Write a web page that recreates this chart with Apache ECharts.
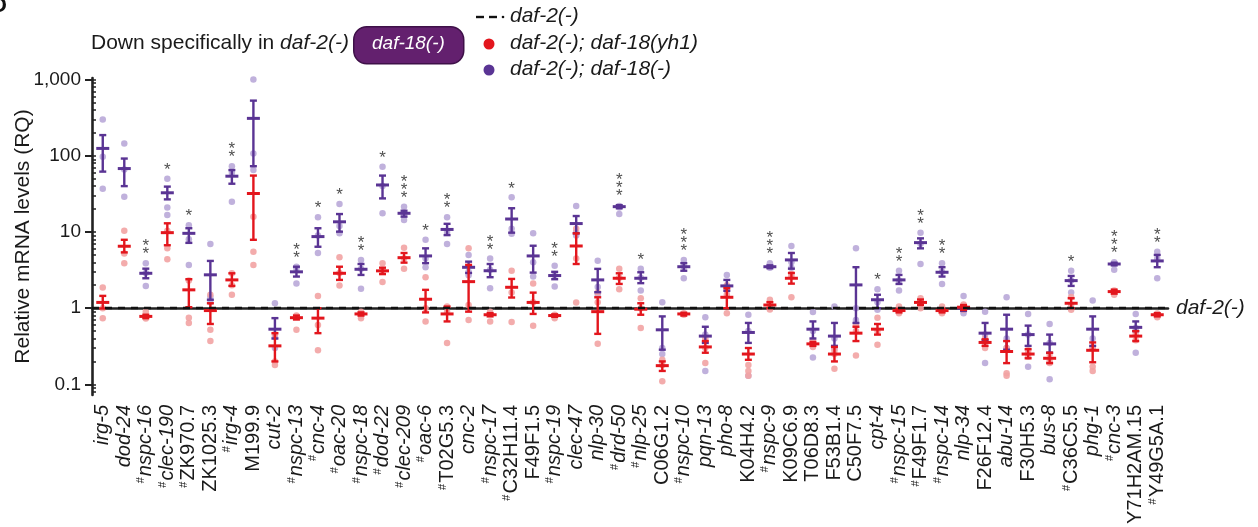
<!DOCTYPE html>
<html>
<head>
<meta charset="utf-8">
<script src="https://cdn.jsdelivr.net/npm/echarts@6/dist/echarts.min.js"></script>
<style>
html,body{margin:0;padding:0;background:#fff;}
#chart{width:1258px;height:527px;}
</style>
</head>
<body>
<div id="chart"></div>
<script>
// ---------------- DATA ----------------
const genes = ['irg-5','dod-24','#nspc-16','#clec-190','#ZK970.7','ZK1025.3','#irg-4','M199.9','cut-2','#nspc-13',
  '#cnc-4','#oac-20','#nspc-18','#dod-22','#clec-209','#oac-6','#T02G5.3','cnc-2','#nspc-17','#C32H11.4',
  'F49F1.5','#nspc-19','clec-47','nlp-30','#drd-50','#nlp-25','C06G1.2','#nspc-10','pqn-13','pho-8',
  'K04H4.2','#nspc-9','K09C6.9','T06D8.3','F53B1.4','C50F7.5','cpt-4','#nspc-15','#F49F1.7','#nspc-14',
  'nlp-34','F26F12.4','abu-14','F30H5.3','bus-8','#C36C5.5','phg-1','#cnc-3','Y71H2AM.15','#Y49G5A.1'];

// daf-2(-); daf-18(-)  (purple)
const purpleMean = [125,68,2.87,32.7,9.6,2.74,54,310,0.53,3.0,
  8.7,13.6,3.24,41.4,17.6,4.85,10.8,3.44,3.1,14.8,
  4.85,2.68,12.9,2.35,21.5,2.47,0.52,3.5,0.43,1.96,
  0.48,3.5,4.3,0.53,0.43,2.02,1.29,2.35,7.25,2.96,
  1.0,0.47,0.53,0.45,0.34,2.3,0.53,3.8,0.56,4.17];
const purpleLow = [62,40,2.47,26.8,7.2,1.29,43,73,0.4,2.6,
  6.4,10.1,2.73,27.6,15.9,3.9,9.1,2.9,2.55,9.8,
  2.93,2.4,9.6,1.62,20.5,2.13,0.285,3.1,0.35,1.69,
  0.35,3.35,3.3,0.4,0.32,0.64,1.0,2.08,6.1,2.6,
  0.92,0.38,0.285,0.32,0.26,1.96,0.32,3.65,0.5,3.45];
const purpleHigh = [187,92,3.3,39.4,11.2,4.17,65,530,0.74,3.5,
  11.2,17.2,3.8,55,19,6.1,12.8,4.08,3.8,20.5,
  6.6,3.0,16.2,3.28,22.5,2.96,0.78,3.9,0.57,2.35,
  0.64,3.65,5.3,0.67,0.64,3.45,1.5,2.73,8.25,3.45,
  1.06,0.64,0.82,0.59,0.45,2.65,0.78,3.95,0.67,5.0];
const purpleDots = [[300,97,37],[145,29,66],[3.9,1.96,2.9],[50,16.7,21],[12.3,3.7,8],[6.96,1.4,1.2],[73,25,60],[1000,107,65],[1.16,0.42,0.3],[3.5,2.1,3.3],
  [15.6,5.3,9],[23.3,9.6,12],[4.3,1.8,3.3],[72,17.6,40],[21.5,14.4,17],[7.9,3.45,4.5],[15.6,6.96,10],[5.0,2.7,3.0],[4.5,1.83,3.2],[28.5,9.5,11],
  [9.6,2.6,4],[3.6,1.92,2.7],[21.9,9,10],[4.2,1.5,1.9],[17.2,22,21],[3.3,1.7,2.5],[1.2,0.3,0.25],[4.3,2.47,3.5],[0.76,0.15,0.45],[2.73,1.7,1.9],
  [0.82,0.13,0.5],[3.9,3.4,3.5],[6.55,3.4,4],[0.89,0.225,0.5],[1.05,0.3,0.4],[6.1,0.7,1.0],[1.77,0.95,1.2],[3.1,1.7,2.3],[9.8,3.8,7],[3.9,2.08,3.0],
  [1.45,0.86,1.0],[0.9,0.19,0.45],[1.39,0.3,0.4],[0.84,0.17,0.45],[0.62,0.117,0.35],[3.1,1.6,2.3],[1.26,0.3,0.4],[3.2,4.0,3.8],[0.84,0.26,0.55],[5.5,2.47,4.5]];

// daf-2(-); daf-18(yh1)  (red)
const redMean = [1.19,6.5,0.78,9.8,1.74,0.93,2.35,32,0.32,0.75,
  0.74,2.87,0.84,3.09,4.6,1.31,0.84,2.23,0.82,1.88,
  1.19,0.8,6.55,0.9,2.47,0.97,0.176,0.84,0.31,1.39,
  0.25,1.1,2.47,0.34,0.25,0.47,0.53,0.93,1.19,0.93,
  1.03,0.355,0.27,0.25,0.22,1.16,0.28,1.65,0.43,0.82];
const redLow = [0.99,5.4,0.74,6.7,1.03,0.62,1.96,7.9,0.2,0.71,
  0.47,2.35,0.8,2.8,3.96,0.88,0.67,0.9,0.78,1.38,
  0.84,0.77,3.8,0.46,2.08,0.82,0.15,0.8,0.26,1.0,
  0.21,1.0,2.1,0.32,0.2,0.37,0.45,0.88,1.1,0.88,
  0.95,0.32,0.19,0.22,0.19,1.0,0.195,1.55,0.37,0.78];
const redHigh = [1.45,7.9,0.82,13,2.4,1.16,2.87,55,0.47,0.8,
  1.0,3.5,0.88,3.4,5.3,1.74,1.05,3.7,0.86,2.42,
  1.6,0.83,9.6,1.39,2.87,1.16,0.2,0.87,0.37,1.83,
  0.3,1.2,2.9,0.36,0.31,0.57,0.62,0.98,1.3,0.98,
  1.1,0.39,0.37,0.29,0.26,1.35,0.355,1.75,0.5,0.86];
const redDots = [[1.87,1.0,0.74],[10.4,3.9,5.2],[0.9,0.73,0.76],[10.4,6.1,4.4],[0.75,0.64,2.3],[0.52,0.37,1.5],[2.87,1.5,2.0],[15.9,5.5,3.7],[0.2,0.18,0.45],[0.52,0.8,0.78],
  [1.45,0.28,0.6],[4.66,1.98,2.9],[0.74,0.8,0.9],[3.9,2.2,3.1],[6.2,3.3,4.5],[2.55,0.67,1.0],[0.35,1.05,0.9],[6.1,1.1,0.7],[0.67,0.85,0.9],[3.1,0.66,1.6],
  [2.1,0.59,1.2],[0.74,0.8,0.82],[1.19,4.5,11],[0.34,1.6,1.2],[3.3,1.77,2.5],[1.35,0.55,1.0],[0.11,0.21,0.18],[0.82,0.86],[0.19,0.4,0.3],[0.86,1.5,2.0],
  [0.18,0.15,0.13],[1.29,0.96,1.1],[1.39,2.8,2.6],[0.31,0.38,0.33],[0.16,0.28,0.25],[0.24,0.5,0.6],[0.33,0.75,0.5],[1.05,0.86,0.9],[1.35,1.0,1.2],[1.05,0.86,0.9],
  [1.12,0.95,1.0],[0.3,0.4,0.35],[0.14,0.13,0.3],[0.26,0.23,0.28],[0.19,0.25,0.2],[0.95,1.4,1.1],[0.15,0.17,0.3],[1.5,1.7],[0.38,0.45],[0.76,0.85,0.8]];

// significance stars (number of *)
const stars = [0,0,2,1,1,0,2,0,0,2,
  1,1,2,1,3,1,2,0,2,1,
  0,2,0,0,3,1,0,3,0,0,
  0,3,0,0,0,0,1,2,2,2,
  0,0,0,0,0,1,0,3,0,2];

const yTickValues = [0.1, 1, 10, 100, 1000];
const yTickLabels = ['0.1', '1', '10', '100', '1,000'];
const yMinorValues = [0.08,0.09,0.2,0.3,0.4,0.5,0.6,0.7,0.8,0.9,2,3,4,5,6,7,8,9,20,30,40,50,60,70,80,90,200,300,400,500,600,700,800,900];
const yMin = 0.0725, yMax = 1050;

// ---------------- BUILD ----------------
const L = v => Math.log10(v);
const FONT = "'Liberation Sans', Arial, sans-serif";
const PURPLE = '#5a3494', RED = '#e3161d';
const PURPLE_DOT = '#b9a8d8', RED_DOT = '#f2a3a3';

const dotData = arr => {
  const out = [];
  arr.forEach((vals, i) => vals.forEach(v => out.push([i, L(v)])));
  return out;
};
const errData = (m, lo, hi) => m.map((v, i) => [i, L(v), L(lo[i]), L(hi[i])]);
const starData = [];
stars.forEach((n, i) => {
  if (n > 0) {
    const top = Math.max(purpleHigh[i], ...purpleDots[i]);
    starData.push({ value: [i, L(top)], n: n });
  }
});

function errRenderer(color) {
  return function (params, api) {
    const i = api.value(0);
    const m = api.coord([i, api.value(1)]);
    const lo = api.coord([i, api.value(2)]);
    const hi = api.coord([i, api.value(3)]);
    const x = m[0];
    const st = { stroke: color, lineWidth: 2.4 };
    const cap = 7, mw = 13;
    return {
      type: 'group',
      children: [
        { type: 'line', shape: { x1: x, y1: lo[1], x2: x, y2: hi[1] }, style: st },
        { type: 'line', shape: { x1: x - cap / 2, y1: lo[1], x2: x + cap / 2, y2: lo[1] }, style: st },
        { type: 'line', shape: { x1: x - cap / 2, y1: hi[1], x2: x + cap / 2, y2: hi[1] }, style: st },
        { type: 'line', shape: { x1: x - mw / 2, y1: m[1], x2: x + mw / 2, y2: m[1] }, style: { stroke: color, lineWidth: 3 } }
      ]
    };
  };
}

const chart = echarts.init(document.getElementById('chart'), null, { renderer: 'canvas' });

const option = {
  animation: false,
  backgroundColor: '#fff',
  textStyle: { fontFamily: FONT },
  grid: { left: 92, right: 90, top: 78, bottom: 132, containLabel: false },
  xAxis: {
    type: 'category',
    data: genes,
    boundaryGap: true,
    axisLine: { lineStyle: { color: '#222', width: 2.6 } },
    axisTick: { show: false },
    axisLabel: {
      interval: 0,
      rotate: 90,
      margin: 10,
      color: '#1a1a1a',
      fontSize: 20,
      fontFamily: FONT,
      formatter: function (value) {
        const hash = value.charAt(0) === '#';
        const name = hash ? value.slice(1) : value;
        const st = /^[a-z]/.test(name) ? 'it' : 'n';
        return (hash ? '{h|#}' : '') + '{' + st + '|' + name + '}';
      },
      rich: {
        h: { fontSize: 11, fontFamily: FONT, color: '#1a1a1a', verticalAlign: 'top', padding: [0, 1, 7, 0] },
        it: { fontSize: 20, fontStyle: 'italic', fontFamily: FONT, color: '#1a1a1a' },
        n: { fontSize: 20, fontFamily: FONT, color: '#1a1a1a' }
      }
    }
  },
  yAxis: [
    {
      type: 'value',
      min: L(yMin),
      max: L(yMax),
      name: 'Relative mRNA levels (RQ)',
      nameLocation: 'middle',
      nameGap: 58,
      nameMoveOverlap: false,
      nameRotate: 90,
      nameTextStyle: { fontSize: 21, color: '#1a1a1a', fontFamily: FONT },
      axisLine: { show: true, lineStyle: { color: '#222', width: 2.6 } },
      splitLine: { show: false },
      axisTick: { show: true, length: 7, lineStyle: { color: '#222', width: 2 }, customValues: yTickValues.map(L) },
      axisLabel: {
        customValues: yTickValues.map(L),
        fontSize: 19,
        color: '#1a1a1a',
        margin: 11,
        formatter: function (v) {
          const idx = yTickValues.findIndex(t => Math.abs(L(t) - v) < 1e-6);
          return idx >= 0 ? yTickLabels[idx] : '';
        }
      }
    },
    {
      type: 'value',
      min: L(yMin),
      max: L(yMax),
      position: 'left',
      axisLine: { show: false },
      splitLine: { show: false },
      axisLabel: { show: false },
      axisTick: { show: true, inside: true, length: 4, lineStyle: { color: '#222', width: 1.5 }, customValues: yMinorValues.concat(yTickValues).map(L) }
    }
  ],
  series: [
    {
      type: 'scatter',
      name: 'purpleDots',
      data: dotData(purpleDots),
      symbolSize: 6.5,
      itemStyle: { color: PURPLE_DOT, opacity: 0.9 },
      z: 2,
      markLine: {
        silent: true,
        symbol: ['none', 'none'],
        lineStyle: { color: '#111', width: 2.4, type: [7, 6] },
        label: {
          show: true,
          position: 'end',
          distance: 8,
          formatter: 'daf-2(-)',
          fontSize: 21,
          fontStyle: 'italic',
          color: '#1a1a1a',
          fontFamily: FONT
        },
        data: [{ yAxis: L(1) }]
      }
    },
    {
      type: 'scatter',
      name: 'redDots',
      data: dotData(redDots),
      symbolSize: 6.5,
      itemStyle: { color: RED_DOT, opacity: 0.9 },
      z: 2
    },
    {
      type: 'custom',
      name: 'purpleErr',
      data: errData(purpleMean, purpleLow, purpleHigh),
      renderItem: errRenderer(PURPLE),
      encode: { x: 0, y: [1, 2, 3] },
      z: 3
    },
    {
      type: 'custom',
      name: 'redErr',
      data: errData(redMean, redLow, redHigh),
      renderItem: errRenderer(RED),
      encode: { x: 0, y: [1, 2, 3] },
      z: 4
    },
    {
      type: 'scatter',
      name: 'stars',
      data: starData,
      symbolSize: 1,
      itemStyle: { color: 'rgba(0,0,0,0)' },
      label: {
        show: true,
        position: 'top',
        distance: 4,
        fontSize: 17,
        lineHeight: 8,
        color: '#222',
        fontFamily: FONT,
        formatter: p => new Array(p.data.n).fill('*').join('\n')
      },
      z: 5
    }
  ],
  graphic: [
    { type: 'text', left: -9, top: -5, style: { text: 'D', font: "bold 22px " + FONT, fill: '#111' } },
    {
      type: 'text', left: 91, top: 33,
      style: {
        text: '{n|Down specifically in }{i|daf-2(-)}',
        rich: {
          n: { font: "21px " + FONT, fill: '#1a1a1a' },
          i: { font: "italic 21px " + FONT, fill: '#1a1a1a' }
        }
      }
    },
    { type: 'rect', left: 353, top: 26, shape: { width: 110, height: 37, r: 13 }, style: { fill: '#63206e', stroke: '#3e1048', lineWidth: 1.5 } },
    { type: 'text', left: 372, top: 34, style: { text: 'daf-18(-)', font: "italic 19px " + FONT, fill: '#ffffff' } },
    // legend
    { type: 'line', shape: { x1: 476, y1: 17, x2: 484, y2: 17 }, style: { stroke: '#111', lineWidth: 2.4 } },
    { type: 'line', shape: { x1: 489, y1: 17, x2: 497, y2: 17 }, style: { stroke: '#111', lineWidth: 2.4 } },
    { type: 'circle', shape: { cx: 503, cy: 17, r: 1.3 }, style: { fill: '#111' } },
    { type: 'text', left: 510, top: 6, style: { text: 'daf-2(-)', font: "italic 21px " + FONT, fill: '#1a1a1a' } },
    { type: 'circle', shape: { cx: 489, cy: 44, r: 5.5 }, style: { fill: RED } },
    { type: 'text', left: 510, top: 33, style: { text: 'daf-2(-); daf-18(yh1)', font: "italic 21px " + FONT, fill: '#1a1a1a' } },
    { type: 'circle', shape: { cx: 489, cy: 70, r: 5.5 }, style: { fill: PURPLE } },
    { type: 'text', left: 510, top: 59, style: { text: 'daf-2(-); daf-18(-)', font: "italic 21px " + FONT, fill: '#1a1a1a' } }
  ]
};

chart.setOption(option);
</script>
</body>
</html>
